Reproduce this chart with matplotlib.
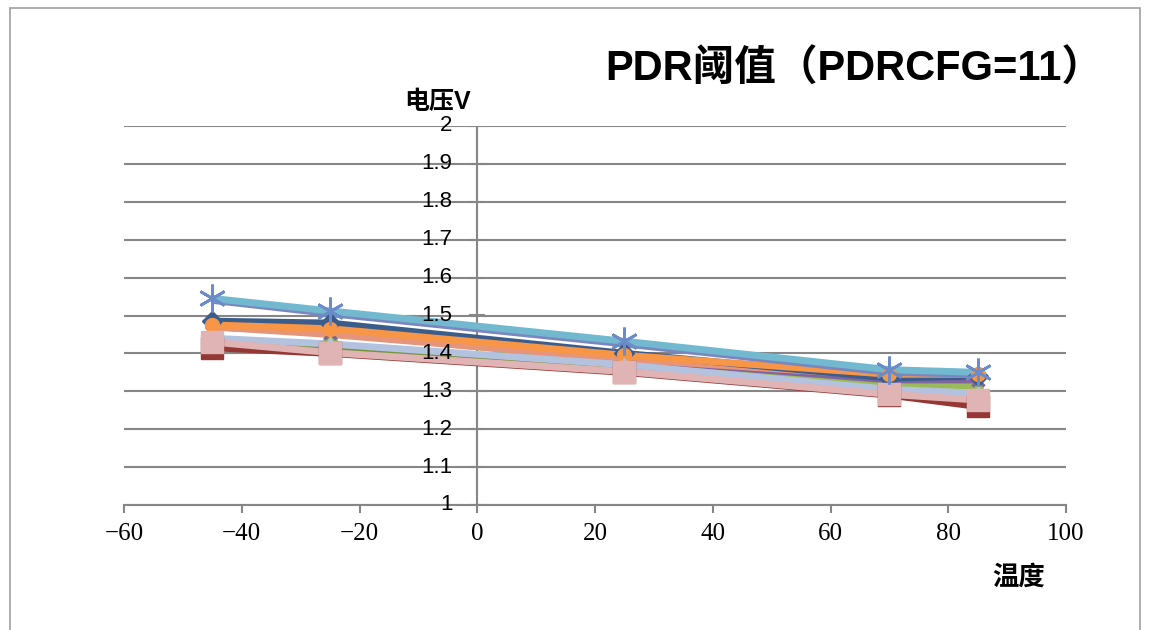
import numpy as np
import matplotlib.pyplot as plt
from matplotlib.patches import Rectangle

# data
temps = [-45, -25, 25, 70, 85]
s_aqua = [1.545, 1.512, 1.432, 1.357, 1.350]
s_slate = [1.540, 1.505, 1.425, 1.350, 1.345]
s_navy = [1.485, 1.480, 1.400, 1.335, 1.340]
s_orange = [1.475, 1.465, 1.395, 1.345, 1.345]
s_salmon = [1.470, 1.450, 1.385, 1.340, 1.340]
s_purple = [1.470, 1.455, 1.385, 1.330, 1.330]
s_green = [1.485, 1.455, 1.380, 1.312, 1.315]
s_ltblue = [1.440, 1.425, 1.370, 1.305, 1.295]
s_olive = [1.435, 1.410, 1.360, 1.300, 1.285]
s_darkred = [1.415, 1.400, 1.350, 1.290, 1.260]
s_pink = [1.430, 1.402, 1.352, 1.292, 1.277]
ytick_labels = ['1', '1.1', '1.2', '1.3', '1.4', '1.5', '1.6', '1.7', '1.8', '1.9', '2']

series = [
    (s_darkred, '#953735', 's'),
    (s_olive, '#77933C', None),
    (s_green, '#9BBB59', '^'),
    (s_purple, '#8064A2', 'x'),
    (s_salmon, '#E6957A', None),
    (s_navy, '#3B5D8C', 'D'),
    (s_orange, '#F79646', 'o'),
    (s_ltblue, '#B3C2DE', '^'),
    (s_slate, '#7A86C0', None),
    (s_aqua, '#72B8CE', None),
    (s_pink, '#E0B4B4', 's'),
]

plt.rcParams['font.family'] = ['Liberation Sans', 'Noto Sans CJK SC']

fig = plt.figure(figsize=(11.49, 6.30), dpi=100)
ax = fig.add_axes([124 / 1149, 1 - 505 / 630, (1066 - 124) / 1149, (505 - 126) / 630])

for vals, col, mk in series:
    ax.plot(temps, vals, color=col, lw=5, solid_capstyle='butt', zorder=3)
    if mk is not None:
        if mk == 'x':
            ax.plot(temps, vals, ls='none', marker=mk, ms=9, mew=2.5, color=col, zorder=4)
        else:
            ax.plot(temps, vals, ls='none', marker=mk, ms=16 if mk == 's' else 10,
                    color=col, mec=col, zorder=4)
# star markers on the top line
ax.plot(temps, s_aqua, ls='none', marker=(6, 2, 0), ms=20, mew=2, color='#6B8CC8', zorder=4)

ax.set_xlim(-60, 100)
ax.set_ylim(1, 2)
ax.set_xticks(np.arange(-60, 101, 20))
ax.set_yticks(np.round(np.arange(1, 2.01, 0.1), 1))
ax.set_yticklabels([])
ax.grid(axis='y', color='#868686', lw=1.5)
ax.set_axisbelow(True)

for side in ['top', 'right', 'left']:
    ax.spines[side].set_visible(False)
ax.spines['bottom'].set_color('#868686')
ax.spines['bottom'].set_linewidth(1.5)
ax.axvline(0, color='#868686', lw=1.5, zorder=1)

ax.tick_params(axis='x', length=6, width=1.5, color='#868686', pad=7)
ax.tick_params(axis='y', length=0)
for lab in ax.get_xticklabels():
    lab.set_family('Liberation Serif')
    lab.set_fontsize(18)

# y tick labels sit left of the x=0 line
for v, s in zip(np.arange(1, 2.01, 0.1), ytick_labels):
    ax.text(-4.2, v, s, ha='right', va='center', fontsize=16)
    ax.plot([-1.2, 1.2], [v, v], color='#868686', lw=1.5, zorder=1)

fig.text(605 / 1149, 1 - 70 / 630, 'PDR阈值（PDRCFG=11）', fontsize=30, fontweight='bold',
         ha='left', va='center')
fig.text(438 / 1149, 1 - 102 / 630, '电压V', fontsize=18, fontweight='bold', ha='center', va='center')
fig.text(1019 / 1149, 1 - 577 / 630, '温度', fontsize=19, fontweight='bold', ha='center', va='center')

fig.patches.append(Rectangle((10 / 1149, -0.1), (1140 - 10) / 1149, 1.1 - 8 / 630,
                             transform=fig.transFigure, fill=False, ec='#a0a0a0', lw=1.2))

fig.savefig('out.png', dpi=100)
